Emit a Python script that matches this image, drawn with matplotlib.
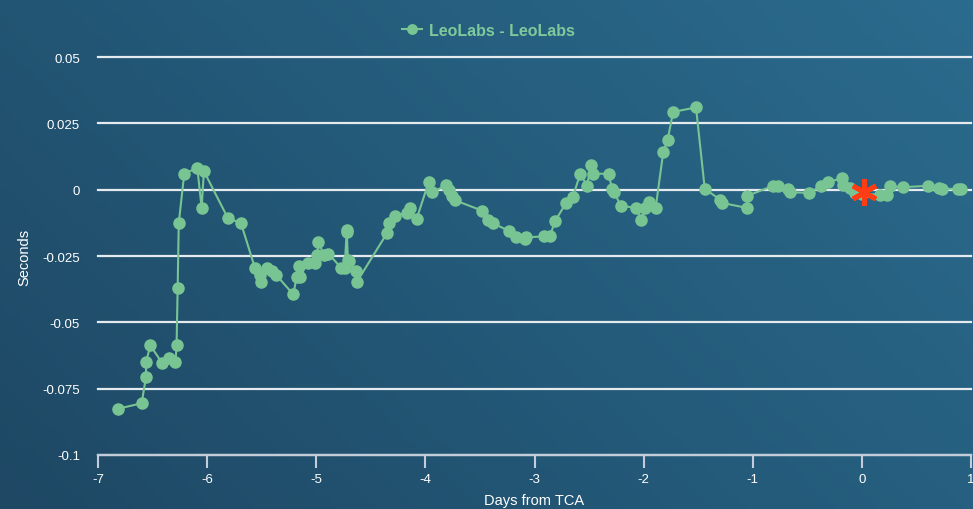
import matplotlib
matplotlib.use("Agg")
import matplotlib.pyplot as plt
import numpy as np
from matplotlib.colors import LinearSegmentedColormap

plt.rcParams['font.family'] = ['Liberation Sans', 'DejaVu Sans']
plt.rcParams['axes.unicode_minus'] = False

# days from TCA vs. timing offset (seconds)
days = [-6.82, -6.60, -6.56, -6.56, -6.52, -6.41, -6.35, -6.29, -6.28, -6.27,
        -6.26, -6.21, -6.09, -6.05, -6.03, -5.81, -5.69, -5.56, -5.52, -5.51,
        -5.45, -5.41, -5.37, -5.21, -5.18, -5.16, -5.15, -5.08, -5.01, -4.99,
        -4.98, -4.93, -4.89, -4.77, -4.74, -4.72, -4.72, -4.71, -4.70, -4.64,
        -4.63, -4.35, -4.33, -4.28, -4.17, -4.14, -4.08, -3.97, -3.94, -3.81,
        -3.78, -3.76, -3.73, -3.48, -3.43, -3.38, -3.23, -3.17, -3.09, -3.08,
        -2.91, -2.86, -2.81, -2.71, -2.65, -2.58, -2.52, -2.48, -2.46, -2.32,
        -2.29, -2.27, -2.21, -2.07, -2.02, -1.99, -1.95, -1.89, -1.82, -1.78,
        -1.73, -1.52, -1.44, -1.30, -1.28, -1.05, -1.05, -0.81, -0.77, -0.68,
        -0.66, -0.48, -0.37, -0.31, -0.18, -0.17, -0.11, -0.06, 0.00, 0.165,
        0.23, 0.26, 0.38, 0.61, 0.71, 0.73, 0.88, 0.91]
seconds = [-0.0826, -0.0805, -0.0705, -0.0650, -0.0587, -0.0655, -0.0635, -0.0650, -0.0587, -0.0370,
           -0.0127, 0.0060, 0.0082, -0.0069, 0.0070, -0.0107, -0.0126, -0.0297, -0.0320, -0.0349,
           -0.0297, -0.0308, -0.0320, -0.0395, -0.0329, -0.0286, -0.0329, -0.0276, -0.0276, -0.0245,
           -0.0198, -0.0245, -0.0241, -0.0295, -0.0295, -0.0151, -0.0160, -0.0264, -0.0270, -0.0305,
           -0.0349, -0.0163, -0.0126, -0.0098, -0.0088, -0.0068, -0.0110, 0.0028, -0.0010, 0.0016,
           0.0000, -0.0023, -0.0040, -0.0079, -0.0113, -0.0126, -0.0157, -0.0178, -0.0186, -0.0180,
           -0.0176, -0.0176, -0.0117, -0.0050, -0.0028, 0.0060, 0.0015, 0.0094, 0.0060, 0.0060,
           0.0003, -0.0010, -0.0060, -0.0069, -0.0113, -0.0069, -0.0048, -0.0069, 0.0142, 0.0188,
           0.0293, 0.0310, 0.0004, -0.0038, -0.0050, -0.0069, -0.0023, 0.0015, 0.0015, 0.0003,
           -0.0010, -0.0012, 0.0015, 0.0028, 0.0044, 0.0019, 0.0006, -0.0012, -0.0015, -0.0019,
           -0.0019, 0.0013, 0.0009, 0.0015, 0.0006, 0.0003, 0.0003, 0.0003]

tca_day = 0.02
tca_sec = -0.0007

x_ticks = [-7, -6, -5, -4, -3, -2, -1, 0, 1]
y_ticks = [0.05, 0.025, 0, -0.025, -0.05, -0.075, -0.1]
y_labels = ['0.05', '0.025', '0', '-0.025', '-0.05', '-0.075', '-0.1']

green = '#78c593'

fig = plt.figure(figsize=(9.73, 5.10), dpi=100)

# diagonal gradient background
bg = fig.add_axes([0, 0, 1, 1], zorder=-10)
gx, gy = np.meshgrid(np.linspace(0, 1, 200), np.linspace(0, 1, 100))
grad = 0.65 * gx + 0.35 * gy
cmap = LinearSegmentedColormap.from_list('bg', ['#1e4864', '#245a7a', '#2b6b8d'])
bg.imshow(grad, cmap=cmap, aspect='auto', origin='lower', extent=[0, 1, 0, 1])
bg.axis('off')

ax = fig.add_axes([98 / 973, 54 / 510, 873 / 973, 398 / 510])
ax.patch.set_alpha(0)

ax.plot(days, seconds, color=green, lw=1.5, marker='o', ms=8, mec=green,
        mfc=green, zorder=3, label='LeoLabs - LeoLabs', clip_on=False)
ax.plot([tca_day], [tca_sec], linestyle='none', marker=(6, 2, 0), ms=19,
        mew=3.5, color='#ff3d14', zorder=4, clip_on=False)

ax.set_xlim(-7, 1)
ax.set_ylim(-0.1, 0.05)
ax.set_xticks(x_ticks)
ax.set_yticks(y_ticks)
ax.set_yticklabels(y_labels)

ax.grid(axis='y', color='#e4eaee', lw=1.6, zorder=1)
for gl in ax.get_ygridlines():
    gl.set_clip_on(False)

for s in ['top', 'right', 'left']:
    ax.spines[s].set_visible(False)
ax.spines['bottom'].set_color('#c3ccd9')
ax.spines['bottom'].set_linewidth(1.6)

ax.tick_params(axis='x', colors='#c3ccd9', length=9, width=1.5, direction='out',
               labelcolor='white', labelsize=9.5, pad=4)
ax.tick_params(axis='y', length=0, labelcolor='white', labelsize=9.5, pad=13)

ax.set_xlabel('Days from TCA', color='white', fontsize=10.5, labelpad=6)
ax.set_ylabel('Seconds', color='white', fontsize=10.5, labelpad=8)

leg = ax.legend(loc='lower center', bbox_to_anchor=(0.447, 1.012), frameon=False,
                handlelength=1.3, handletextpad=0.4, markerscale=0.85,
                prop={'weight': 'bold', 'size': 11.5})
for t in leg.get_texts():
    t.set_color('#7fca9b')

fig.savefig('out.png', dpi=100)
